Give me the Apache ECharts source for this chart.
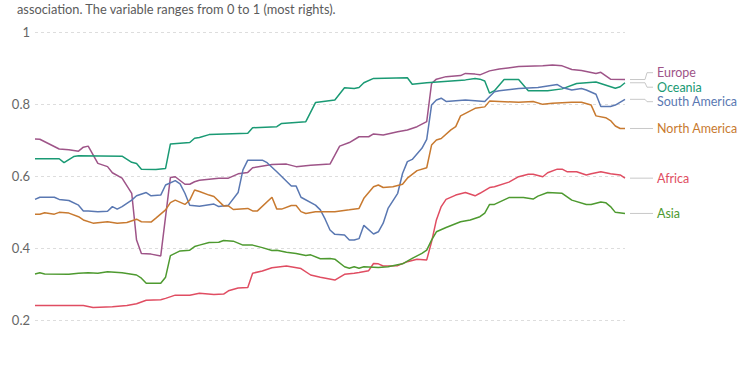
<!DOCTYPE html>
<html><head><meta charset="utf-8">
<script src="https://cdn.jsdelivr.net/npm/echarts@6/dist/echarts.min.js"></script>
<style>html,body{margin:0;padding:0;background:#fff}#c{width:750px;height:375px}</style>
</head><body><div id="c"></div>
<script>
const subtitle = "association. The variable ranges from 0 to 1 (most rights).";
const yTicks = [0.2, 0.4, 0.6, 0.8, 1];
const seriesNames = ["Europe", "Oceania", "South America", "North America", "Africa", "Asia"];
const seriesColors = ["#9e5488", "#1a9a74", "#5a78b2", "#c87a30", "#e04d62", "#4e9a30"];

const europe = [[1900,0.703],[1901,0.702],[1905,0.675],[1907,0.673],[1909,0.669],[1910,0.680],[1911,0.683],[1913,0.635],[1915,0.626],[1916,0.609],[1918,0.594],[1920,0.552],[1921,0.422],[1922,0.385],[1924,0.383],[1926,0.378],[1928,0.596],[1929,0.598],[1931,0.577],[1932,0.577],[1933,0.584],[1934,0.588],[1938,0.594],[1940,0.594],[1942,0.606],[1944,0.610],[1945,0.623],[1949,0.632],[1952,0.633],[1954,0.626],[1957,0.630],[1961,0.633],[1963,0.683],[1965,0.693],[1967,0.709],[1969,0.709],[1970,0.717],[1972,0.714],[1975,0.723],[1977,0.728],[1979,0.737],[1981,0.751],[1982,0.857],[1983,0.869],[1985,0.876],[1988,0.879],[1989,0.885],[1991,0.883],[1992,0.881],[1994,0.892],[1996,0.897],[2000,0.904],[2005,0.906],[2007,0.908],[2009,0.906],[2011,0.896],[2013,0.893],[2016,0.885],[2017,0.888],[2019,0.869],[2022,0.868]];
const oceania = [[1900,0.648],[1905,0.648],[1906,0.637],[1908,0.654],[1909,0.656],[1918,0.655],[1920,0.638],[1921,0.635],[1922,0.619],[1925,0.618],[1927,0.621],[1928,0.689],[1932,0.693],[1933,0.705],[1934,0.707],[1936,0.715],[1944,0.719],[1945,0.734],[1950,0.737],[1951,0.746],[1956,0.751],[1958,0.804],[1962,0.811],[1964,0.845],[1966,0.843],[1967,0.846],[1968,0.859],[1970,0.871],[1977,0.873],[1978,0.855],[1981,0.859],[1989,0.867],[1991,0.871],[1992,0.869],[1993,0.864],[1994,0.830],[1995,0.837],[1997,0.868],[2000,0.868],[2002,0.837],[2006,0.837],[2009,0.842],[2012,0.857],[2016,0.861],[2020,0.844],[2021,0.848],[2022,0.859]];
const southAmerica = [[1900,0.535],[1901,0.541],[1904,0.541],[1905,0.535],[1907,0.532],[1909,0.519],[1910,0.503],[1911,0.503],[1913,0.501],[1915,0.502],[1916,0.515],[1917,0.508],[1918,0.515],[1920,0.533],[1921,0.545],[1923,0.554],[1924,0.545],[1926,0.547],[1927,0.575],[1929,0.587],[1930,0.578],[1931,0.552],[1932,0.519],[1934,0.516],[1937,0.522],[1938,0.515],[1940,0.519],[1942,0.554],[1943,0.617],[1944,0.644],[1947,0.644],[1948,0.637],[1950,0.612],[1953,0.572],[1954,0.572],[1955,0.541],[1958,0.519],[1959,0.506],[1960,0.480],[1961,0.450],[1962,0.438],[1964,0.436],[1965,0.422],[1966,0.422],[1967,0.426],[1968,0.463],[1970,0.439],[1971,0.445],[1972,0.469],[1973,0.510],[1975,0.552],[1976,0.607],[1977,0.640],[1978,0.646],[1980,0.677],[1981,0.702],[1982,0.797],[1983,0.811],[1984,0.816],[1985,0.807],[1989,0.811],[1993,0.807],[1995,0.834],[1996,0.837],[2000,0.843],[2004,0.846],[2008,0.854],[2009,0.846],[2011,0.839],[2013,0.843],[2014,0.839],[2016,0.827],[2017,0.793],[2019,0.793],[2020,0.797],[2022,0.813]];
const northAmerica = [[1900,0.494],[1901,0.494],[1902,0.498],[1904,0.494],[1905,0.499],[1907,0.497],[1909,0.487],[1910,0.478],[1912,0.469],[1915,0.473],[1917,0.469],[1919,0.471],[1921,0.480],[1922,0.473],[1924,0.472],[1925,0.483],[1927,0.506],[1928,0.526],[1929,0.533],[1931,0.521],[1932,0.533],[1933,0.561],[1934,0.557],[1936,0.547],[1937,0.543],[1939,0.517],[1940,0.517],[1941,0.507],[1944,0.510],[1945,0.503],[1946,0.503],[1949,0.541],[1950,0.508],[1951,0.508],[1953,0.518],[1954,0.518],[1955,0.501],[1956,0.496],[1958,0.501],[1962,0.501],[1965,0.506],[1967,0.510],[1968,0.538],[1970,0.570],[1971,0.575],[1972,0.568],[1974,0.570],[1976,0.577],[1977,0.594],[1979,0.615],[1981,0.623],[1982,0.686],[1983,0.700],[1984,0.704],[1986,0.728],[1987,0.737],[1988,0.767],[1989,0.774],[1991,0.788],[1993,0.792],[1994,0.808],[1996,0.807],[2000,0.805],[2003,0.807],[2005,0.799],[2007,0.802],[2011,0.805],[2013,0.805],[2015,0.797],[2016,0.767],[2018,0.762],[2019,0.754],[2020,0.739],[2021,0.732],[2022,0.732]];
const africa = [[1900,0.240],[1910,0.240],[1912,0.235],[1916,0.237],[1919,0.240],[1921,0.245],[1923,0.255],[1926,0.256],[1927,0.260],[1929,0.269],[1932,0.269],[1934,0.274],[1937,0.271],[1939,0.272],[1940,0.281],[1942,0.289],[1944,0.290],[1945,0.330],[1947,0.336],[1949,0.345],[1952,0.350],[1955,0.343],[1957,0.325],[1959,0.319],[1962,0.311],[1964,0.327],[1966,0.330],[1967,0.332],[1969,0.337],[1970,0.357],[1971,0.356],[1972,0.350],[1975,0.351],[1977,0.362],[1979,0.369],[1981,0.367],[1982,0.417],[1983,0.478],[1984,0.515],[1985,0.535],[1987,0.547],[1989,0.554],[1991,0.545],[1992,0.552],[1994,0.568],[1995,0.570],[1998,0.583],[2000,0.598],[2002,0.605],[2003,0.605],[2005,0.598],[2006,0.609],[2008,0.619],[2009,0.619],[2010,0.612],[2012,0.612],[2014,0.603],[2015,0.606],[2017,0.612],[2019,0.606],[2021,0.603],[2022,0.594]];
const asia = [[1900,0.328],[1901,0.331],[1902,0.328],[1907,0.327],[1909,0.330],[1911,0.331],[1913,0.330],[1915,0.334],[1918,0.331],[1921,0.325],[1922,0.316],[1923,0.302],[1926,0.302],[1927,0.319],[1928,0.379],[1930,0.392],[1932,0.394],[1933,0.404],[1934,0.408],[1936,0.415],[1938,0.416],[1939,0.421],[1941,0.419],[1943,0.408],[1945,0.408],[1947,0.401],[1949,0.393],[1950,0.394],[1952,0.388],[1954,0.385],[1956,0.379],[1957,0.381],[1959,0.370],[1961,0.371],[1962,0.369],[1964,0.348],[1965,0.344],[1966,0.348],[1967,0.344],[1968,0.348],[1971,0.346],[1973,0.348],[1976,0.356],[1978,0.371],[1980,0.385],[1981,0.394],[1982,0.422],[1983,0.445],[1985,0.457],[1988,0.473],[1990,0.478],[1992,0.487],[1993,0.497],[1994,0.521],[1995,0.521],[1998,0.540],[2001,0.540],[2003,0.536],[2004,0.544],[2006,0.554],[2009,0.552],[2011,0.533],[2014,0.521],[2015,0.521],[2017,0.528],[2018,0.526],[2019,0.515],[2020,0.499],[2022,0.496]];

const allData = [europe, oceania, southAmerica, northAmerica, africa, asia];
const FONT = "Lato, 'Noto Sans', sans-serif";

const chart = echarts.init(document.getElementById('c'), null, {renderer: 'svg'});
chart.setOption({
  animation: false,
  backgroundColor: '#fff',
  title: {
    text: subtitle, left: 12, top: -3,
    textStyle: {fontFamily: FONT, fontSize: 12.8, fontWeight: 'normal', color: '#5b5b5b'}
  },
  grid: {left: 35, right: 125, top: 32, bottom: 55, containLabel: false},
  xAxis: {
    type: 'value', min: 1900, max: 2022,
    show: false
  },
  yAxis: {
    type: 'value', min: yTicks[0], max: yTicks[yTicks.length - 1], interval: 0.2,
    axisLine: {show: false}, axisTick: {show: false},
    axisLabel: {fontFamily: FONT, fontSize: 13, color: '#666', margin: 5,
      formatter: v => String(Math.round(v * 10) / 10)},
    splitLine: {lineStyle: {color: '#dddddd', type: [3, 3], width: 1}}
  },
  series: seriesNames.map((n, i) => ({
    name: n, type: 'line', data: allData[i], showSymbol: false, symbol: 'none',
    lineStyle: {width: 1.5, color: seriesColors[i]}, itemStyle: {color: seriesColors[i]},
    emphasis: {disabled: true}
  }))
});

// end labels with connectors
const ends = seriesNames.map((n, i) => {
  const last = allData[i][allData[i].length - 1];
  const p = chart.convertToPixel({gridIndex: 0}, last);
  return {i, name: n, x: p[0], y: p[1], ly: p[1]};
}).sort((a, b) => a.y - b.y);
const gap = 14.5;
for (let iter = 0; iter < 50; iter++) {
  for (let k = 1; k < ends.length; k++) {
    const d = ends[k].ly - ends[k - 1].ly;
    if (d < gap) {
      const push = (gap - d) / 2;
      ends[k].ly += push; ends[k - 1].ly -= push;
    }
  }
}
const graphics = [];
ends.forEach(e => {
  const x0 = e.x + 5, xm = e.x + 20, x1 = e.x + 28;
  graphics.push({
    type: 'polyline', silent: true,
    shape: {points: [[x0, e.y], [xm, e.y], [xm + 2, e.ly], [x1, e.ly]]},
    style: {stroke: '#c8c8c8', lineWidth: 1, fill: null}
  });
  graphics.push({
    type: 'text', silent: true, x: e.x + 32, y: e.ly,
    style: {text: e.name, fill: seriesColors[e.i], font: '12.5px ' + FONT, verticalAlign: 'middle'}
  });
});
chart.setOption({graphic: graphics});
</script></body></html>
